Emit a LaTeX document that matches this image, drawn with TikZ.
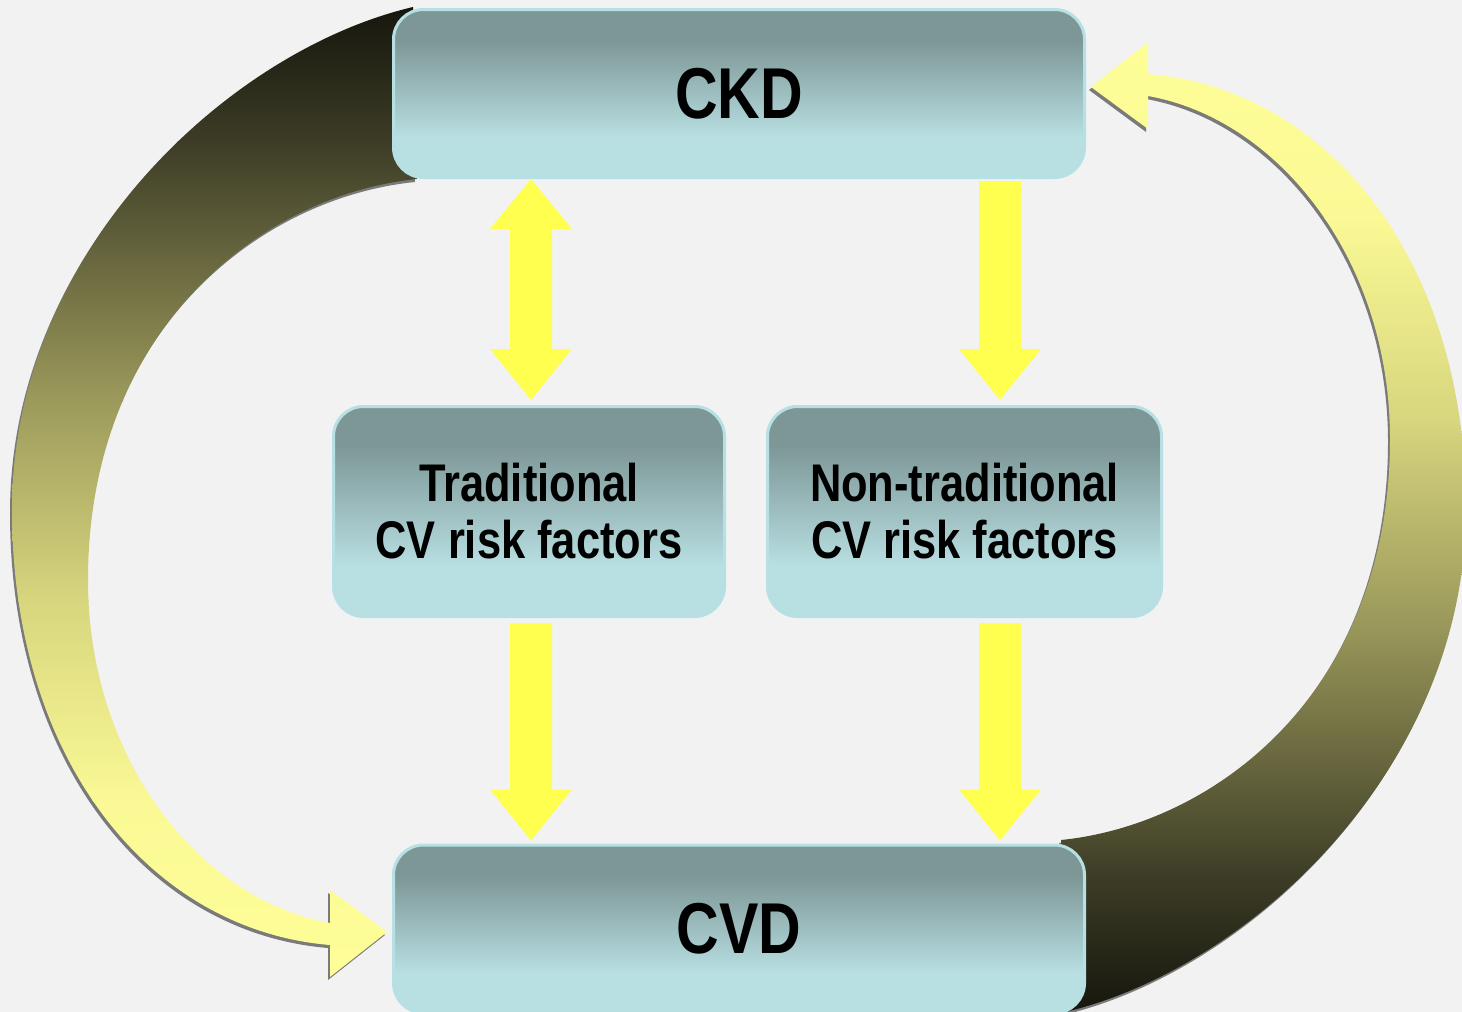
\documentclass[tikz,border=0pt]{standalone}
\usepackage{fontspec}
\newfontfamily\narrowfont{Liberation Sans}[FakeStretch=0.82]
\usetikzlibrary{calc}
\definecolor{bg}{HTML}{F2F2F2}
\definecolor{boxdk}{HTML}{7D9696}
\definecolor{boxlt}{HTML}{B8DFE2}
\definecolor{boxedge}{HTML}{B6E0E4}
\definecolor{yarrowc}{HTML}{FFFF50}
\definecolor{shadowc}{HTML}{7A7A7A}
\definecolor{ca}{HTML}{14140C}
\definecolor{cb}{HTML}{3C3C26}
\definecolor{cc}{HTML}{9C9A5B}
\definecolor{cd}{HTML}{D8D67E}
\definecolor{ce}{HTML}{FAF995}
\definecolor{cf}{HTML}{FFFF99}
\pgfdeclareverticalshading{boxgrad}{100bp}{color(0bp)=(boxlt); color(37bp)=(boxlt); color(66bp)=(boxdk); color(100bp)=(boxdk)}
\tikzset{
  curvepath/.style={insert path={(413,7) .. controls (230,50) and (12,250) .. (12,510)
      .. controls (12,760) and (150,930) .. (330,945) -- (330,977) -- (387,932) -- (330,890) -- (330,923)
      .. controls (200,900) and (88,760) .. (88,580) .. controls (88,330) and (260,195) .. (417,179) -- cycle}},
  box/.style={shade, shading=boxgrad, draw=boxedge, line width=3pt, rounded corners=30pt,
      inner sep=0pt, align=center, text=black},
  bigtext/.style={font=\narrowfont\bfseries\fontsize{72}{72}\selectfont},
  smalltext/.style={font=\narrowfont\bfseries\fontsize{53}{57}\selectfont},
  yarrow/.style={fill=yarrowc}
}
\newcommand\downfat[2]{\fill[yarrow] let \p1=(#1), \p2=(#2) in
  (\x1-21pt,\y1) -- (\x1+21pt,\y1) -- (\x1+21pt,\y2+51pt) -- (\x1+41pt,\y2+51pt) -- (\x1,\y2)
  -- (\x1-41pt,\y2+51pt) -- (\x1-21pt,\y2+51pt) -- cycle;}
\newcommand\bothfat[2]{\fill[yarrow] let \p1=(#1), \p2=(#2) in
  (\x1,\y1) -- (\x1+41pt,\y1-50pt) -- (\x1+21pt,\y1-50pt) -- (\x1+21pt,\y2+51pt) -- (\x1+41pt,\y2+51pt)
  -- (\x1,\y2) -- (\x1-41pt,\y2+51pt) -- (\x1-21pt,\y2+51pt) -- (\x1-21pt,\y1-50pt) -- (\x1-41pt,\y1-50pt) -- cycle;}
\begin{document}
\begin{tikzpicture}[x=1pt,y=-1pt]
\useasboundingbox (0,0) rectangle (1462,1012);
\clip (0,0) rectangle (1462,1012);
\fill[bg] (0,0) rectangle (1462,1012);
% shadows
\fill[shadowc, shift={(-2,3)}, curvepath];
\fill[shadowc, shift={(1476,1022)}, rotate=180, curvepath];
% left curved arrow
\begin{scope}
  \clip[curvepath];
  \shade[top color=ca, bottom color=cb] (0,0) rectangle (500,141);
  \shade[top color=cb, bottom color=cc] (0,140) rectangle (500,401);
  \shade[top color=cc, bottom color=cd] (0,400) rectangle (500,601);
  \shade[top color=cd, bottom color=ce] (0,600) rectangle (500,801);
  \shade[top color=ce, bottom color=cf] (0,800) rectangle (500,1012);
\end{scope}
% right curved arrow
\begin{scope}
  \clip[shift={(1478,1019)}, rotate=180, curvepath];
  \shade[bottom color=ca, top color=cb] (1000,878) rectangle (1462,1019);
  \shade[bottom color=cb, top color=cc] (1000,618) rectangle (1462,879);
  \shade[bottom color=cc, top color=cd] (1000,418) rectangle (1462,619);
  \shade[bottom color=cd, top color=ce] (1000,218) rectangle (1462,419);
  \shade[bottom color=ce, top color=cf] (1000,0) rectangle (1462,219);
\end{scope}
% boxes
\node[box, bigtext, minimum width=691pt, minimum height=168pt] (ckd) at (739,93.5) {CKD};
\node[box, bigtext, minimum width=691pt, minimum height=168pt] (cvd) at (739,929) {CVD};
\node[box, smalltext, minimum width=391pt, minimum height=210pt] (trad) at (529,511.5) {Traditional\\CV risk factors};
\node[box, smalltext, minimum width=394pt, minimum height=210pt] (nontrad) at (964.5,511.5) {Non-traditional\\CV risk factors};
% yellow arrows
\coordinate (a1) at ($(ckd.south -| trad.north)+(2,0)$);
\coordinate (a2) at ($(trad.north)+(2,-5)$);
\bothfat{a1}{a2}
\coordinate (b1) at ($(ckd.south)+(261,2)$);
\coordinate (b2) at ($(nontrad.north)+(35.5,-5)$);
\downfat{b1}{b2}
\coordinate (c1) at ($(trad.south)+(2,5)$);
\coordinate (c2) at ($(cvd.north)+(-208,-3)$);
\downfat{c1}{c2}
\coordinate (d1) at ($(nontrad.south)+(35.5,5)$);
\coordinate (d2) at ($(cvd.north)+(261,-3)$);
\downfat{d1}{d2}
\end{tikzpicture}
\end{document}
